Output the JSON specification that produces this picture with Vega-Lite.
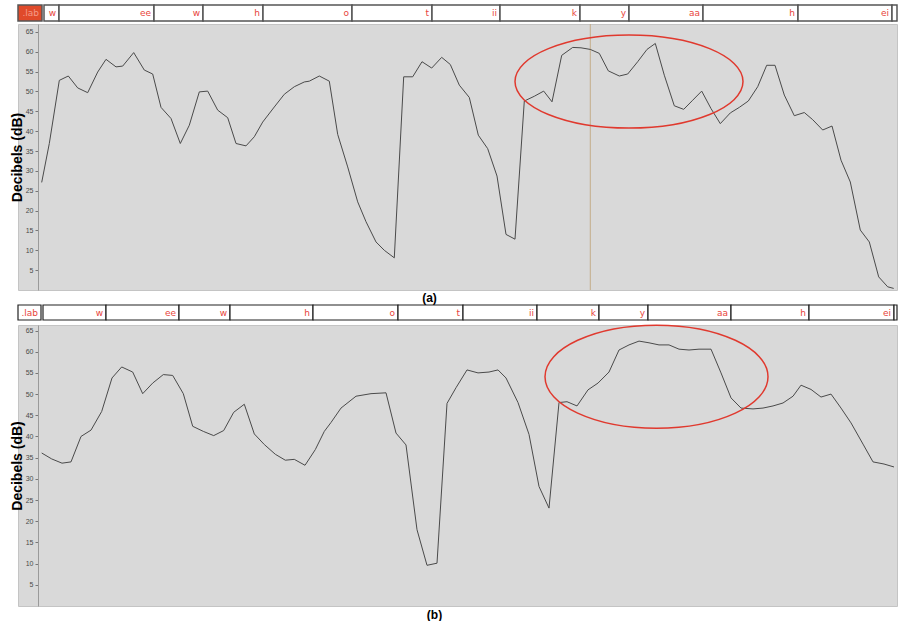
{
  "$schema": "https://vega.github.io/schema/vega-lite/v6.json",
  "padding": {"left": 9, "top": 4, "right": 5, "bottom": 0},
  "background": "white",
  "config": {"view": {"stroke": null}, "font": "Liberation Sans", "axis": {"labelOverlap": false}, "axisY": {"labelOverlap": false}},
  "spacing": 0,
  "datasets": {
    "tierA": [
      {"start": 0, "end": 24, "label": ".lab"},
      {"start": 26, "end": 41, "label": "w"},
      {"start": 41, "end": 136, "label": "ee"},
      {"start": 136, "end": 185, "label": "w"},
      {"start": 185, "end": 245, "label": "h"},
      {"start": 245, "end": 334, "label": "o"},
      {"start": 334, "end": 414, "label": "t"},
      {"start": 414, "end": 482, "label": "ii"},
      {"start": 482, "end": 562, "label": "k"},
      {"start": 562, "end": 611, "label": "y"},
      {"start": 611, "end": 685, "label": "aa"},
      {"start": 685, "end": 780, "label": "h"},
      {"start": 780, "end": 874, "label": "ei"},
      {"start": 874, "end": 879, "label": ""}
    ],
    "tierB": [
      {"start": 0, "end": 23, "label": ".lab"},
      {"start": 25, "end": 88, "label": "w"},
      {"start": 88, "end": 161, "label": "ee"},
      {"start": 161, "end": 212, "label": "w"},
      {"start": 212, "end": 295, "label": "h"},
      {"start": 295, "end": 380, "label": "o"},
      {"start": 380, "end": 445, "label": "t"},
      {"start": 445, "end": 519, "label": "ii"},
      {"start": 519, "end": 581, "label": "k"},
      {"start": 581, "end": 630, "label": "y"},
      {"start": 630, "end": 713, "label": "aa"},
      {"start": 713, "end": 791, "label": "h"},
      {"start": 791, "end": 876, "label": "ei"},
      {"start": 876, "end": 879, "label": ""}
    ],
    "lineA": [
      {"t": 23.7, "v": 27.1}, {"t": 31.3, "v": 36.9}, {"t": 41.3, "v": 52.8}, {"t": 50.3, "v": 53.9},
      {"t": 59.7, "v": 50.9}, {"t": 69.7, "v": 49.7}, {"t": 79.7, "v": 54.9}, {"t": 88, "v": 58.1},
      {"t": 98, "v": 56.2}, {"t": 104.7, "v": 56.4}, {"t": 115.7, "v": 59.8}, {"t": 126.3, "v": 55.4},
      {"t": 134.7, "v": 54.4}, {"t": 143, "v": 46.0}, {"t": 153, "v": 43.2}, {"t": 162.3, "v": 36.9},
      {"t": 171.3, "v": 41.5}, {"t": 181.3, "v": 49.9}, {"t": 189.7, "v": 50.1}, {"t": 199.7, "v": 45.3},
      {"t": 209.7, "v": 43.4}, {"t": 218, "v": 36.9}, {"t": 228, "v": 36.3}, {"t": 236.3, "v": 38.6},
      {"t": 244.7, "v": 42.3}, {"t": 256.3, "v": 46.1}, {"t": 266.3, "v": 49.3}, {"t": 276.3, "v": 51.2},
      {"t": 286.3, "v": 52.4}, {"t": 291.3, "v": 52.6}, {"t": 301.3, "v": 53.9}, {"t": 311.3, "v": 52.6},
      {"t": 319.7, "v": 39.2}, {"t": 329.7, "v": 31.0}, {"t": 339.7, "v": 22.2}, {"t": 348, "v": 17.2},
      {"t": 358, "v": 12.1}, {"t": 366.3, "v": 10.0}, {"t": 376.3, "v": 8.1}, {"t": 385.7, "v": 53.7},
      {"t": 394.7, "v": 53.7}, {"t": 404, "v": 57.5}, {"t": 413.7, "v": 55.9}, {"t": 423.7, "v": 58.6},
      {"t": 432.3, "v": 56.8}, {"t": 441.3, "v": 51.6}, {"t": 451.3, "v": 48.5}, {"t": 460.3, "v": 39.0},
      {"t": 469.7, "v": 35.6}, {"t": 479, "v": 28.7}, {"t": 488, "v": 14.0}, {"t": 497, "v": 12.8},
      {"t": 506.3, "v": 47.6}, {"t": 516.3, "v": 48.8}, {"t": 525.7, "v": 50.1}, {"t": 534, "v": 47.4},
      {"t": 543.7, "v": 59.1}, {"t": 554.7, "v": 61.1}, {"t": 563, "v": 61.0}, {"t": 572.3, "v": 60.6},
      {"t": 581.3, "v": 59.6}, {"t": 590.3, "v": 55.2}, {"t": 601.3, "v": 53.9}, {"t": 609.7, "v": 54.4},
      {"t": 619.7, "v": 57.5}, {"t": 629, "v": 60.6}, {"t": 637.3, "v": 62.1}, {"t": 646.3, "v": 54.1},
      {"t": 656.3, "v": 46.4}, {"t": 665.7, "v": 45.5}, {"t": 674.7, "v": 47.8}, {"t": 683.7, "v": 50.1},
      {"t": 693, "v": 45.7}, {"t": 702.3, "v": 41.9}, {"t": 712.3, "v": 44.6}, {"t": 721.3, "v": 46.0},
      {"t": 730.3, "v": 47.6}, {"t": 739.7, "v": 51.2}, {"t": 748.7, "v": 56.6}, {"t": 757, "v": 56.6},
      {"t": 766.3, "v": 49.1}, {"t": 776.3, "v": 43.9}, {"t": 786.3, "v": 44.7}, {"t": 794.7, "v": 42.9},
      {"t": 804.7, "v": 40.3}, {"t": 814, "v": 41.3}, {"t": 823, "v": 32.7}, {"t": 832.3, "v": 27.2},
      {"t": 842.3, "v": 15.1}, {"t": 851.3, "v": 12.1}, {"t": 860.7, "v": 3.3}, {"t": 869.7, "v": 0.8},
      {"t": 875.7, "v": 0.4}
    ],
    "lineB": [
      {"t": 23.7, "v": 36.1}, {"t": 33.7, "v": 34.7}, {"t": 44, "v": 33.7}, {"t": 53, "v": 34.0},
      {"t": 63, "v": 40.0}, {"t": 73, "v": 41.5}, {"t": 83.7, "v": 45.9}, {"t": 94, "v": 53.8},
      {"t": 103.7, "v": 56.4}, {"t": 114.7, "v": 55.2}, {"t": 124.7, "v": 50.1}, {"t": 134.7, "v": 52.6},
      {"t": 145.3, "v": 54.6}, {"t": 154.7, "v": 54.4}, {"t": 165.3, "v": 50.1}, {"t": 174.7, "v": 42.4},
      {"t": 185.3, "v": 41.2}, {"t": 195.7, "v": 40.2}, {"t": 205.7, "v": 41.4}, {"t": 215.7, "v": 45.7},
      {"t": 226.3, "v": 47.6}, {"t": 236.3, "v": 40.6}, {"t": 246.3, "v": 38.1}, {"t": 257.3, "v": 35.8},
      {"t": 267.3, "v": 34.4}, {"t": 276.3, "v": 34.6}, {"t": 287, "v": 33.2}, {"t": 297.3, "v": 36.9},
      {"t": 306.3, "v": 41.2}, {"t": 313, "v": 43.3}, {"t": 323, "v": 46.7}, {"t": 338, "v": 49.5},
      {"t": 353, "v": 50.1}, {"t": 368, "v": 50.3}, {"t": 378, "v": 40.8}, {"t": 388, "v": 38.0},
      {"t": 399, "v": 18.0}, {"t": 409, "v": 9.6}, {"t": 419, "v": 10.1}, {"t": 429, "v": 47.8},
      {"t": 438, "v": 51.5}, {"t": 449, "v": 55.7}, {"t": 460, "v": 55.0}, {"t": 471, "v": 55.2},
      {"t": 480, "v": 55.7}, {"t": 488, "v": 53.8}, {"t": 500, "v": 48.0}, {"t": 511, "v": 40.5},
      {"t": 521, "v": 28.2}, {"t": 531, "v": 23.1}, {"t": 541, "v": 48.0}, {"t": 549, "v": 48.2},
      {"t": 559, "v": 47.2}, {"t": 570, "v": 51.0}, {"t": 580, "v": 52.6}, {"t": 591, "v": 55.2},
      {"t": 601, "v": 60.4}, {"t": 611, "v": 61.6}, {"t": 621, "v": 62.5}, {"t": 631, "v": 62.1},
      {"t": 641, "v": 61.6}, {"t": 651, "v": 61.6}, {"t": 661, "v": 60.6}, {"t": 671, "v": 60.4},
      {"t": 681, "v": 60.6}, {"t": 693, "v": 60.6}, {"t": 703, "v": 55.0}, {"t": 713, "v": 49.1},
      {"t": 723, "v": 46.7}, {"t": 735, "v": 46.5}, {"t": 745, "v": 46.7}, {"t": 755, "v": 47.2},
      {"t": 765, "v": 47.9}, {"t": 775, "v": 49.5}, {"t": 783, "v": 52.1}, {"t": 793, "v": 51.1},
      {"t": 803, "v": 49.3}, {"t": 813, "v": 50.0}, {"t": 823, "v": 46.7}, {"t": 833, "v": 43.2},
      {"t": 845, "v": 38.2}, {"t": 855, "v": 34.0}, {"t": 866, "v": 33.5}, {"t": 876, "v": 32.8}
    ],
    "cursorA": [{"t": 572.3}],
    "ellipseA": [{"t": 611, "v": 52.5}],
    "ellipseB": [{"t": 638.5, "v": 54.1}]
  },
  "vconcat": [
    {
      "spacing": 1,
      "resolve": {"scale": {"x": "independent", "y": "independent"}},
      "vconcat": [
        {
          "width": 879,
          "height": 16,
          "data": {"name": "tierA"},
          "layer": [
            {
              "mark": {"type": "rect", "stroke": "#555555", "strokeWidth": 1.5},
              "encoding": {
                "x": {"field": "start", "type": "quantitative", "scale": {"domain": [0, 879], "nice": false, "zero": false}, "axis": null},
                "x2": {"field": "end"},
                "fill": {"condition": {"test": "datum.label === '.lab'", "value": "#e04a2a"}, "value": "white"}
              }
            },
            {
              "mark": {"type": "text", "align": "right", "baseline": "middle", "dx": -3, "fontSize": 9, "font": "DejaVu Sans"},
              "encoding": {
                "x": {"field": "end", "type": "quantitative"},
                "text": {"field": "label"},
                "color": {"condition": {"test": "datum.label === '.lab'", "value": "#f59a88"}, "value": "#e8453c"}
              }
            }
          ]
        },
        {
          "width": 879,
          "height": 266,
          "view": {"fill": "#d9d9d9", "stroke": "#c4c4c4"},
          "encoding": {
            "x": {"field": "t", "type": "quantitative", "scale": {"domain": [0, 879], "nice": false, "zero": false},
              "axis": {"title": "(a)", "labels": false, "ticks": false, "domain": false, "grid": false, "titleFontSize": 12, "titleFontWeight": "bold", "titleColor": "black", "titlePadding": 2, "titleX": 411}}
          },
          "layer": [
            {
              "data": {"name": "cursorA"},
              "mark": {"type": "rule", "color": "#bfa47c", "strokeWidth": 1, "opacity": 0.85}
            },
            {
              "data": {"name": "lineA"},
              "mark": {"type": "line", "color": "#4a4a4a", "strokeWidth": 1},
              "encoding": {
                "y": {"field": "v", "type": "quantitative", "scale": {"domain": [0, 67], "nice": false, "zero": false},
                  "axis": {"title": "Decibels (dB)", "values": [5, 10, 15, 20, 25, 30, 35, 40, 45, 50, 55, 60, 65], "labelOverlap": false, "labelSeparation": 0, "offset": -20, "grid": false, "labelFontSize": 7, "labelColor": "#4a4a4a", "tickSize": 3, "tickColor": "#777777", "domainColor": "#9a9a9a", "titleFontSize": 14, "titleFontWeight": "bold", "titleColor": "black", "titlePadding": 1}}
              }
            },
            {
              "data": {"name": "ellipseA"},
              "mark": {"type": "point", "shape": "M 1 0 C 1 0.2253 0.5523 0.408 0 0.408 C -0.5523 0.408 -1 0.2253 -1 0 C -1 -0.2253 -0.5523 -0.408 0 -0.408 C 0.5523 -0.408 1 -0.2253 1 0 Z", "size": 51984, "filled": false, "stroke": "#e0392e", "strokeWidth": 1.5, "opacity": 1},
              "encoding": {
                "y": {"field": "v", "type": "quantitative",
                  "axis": {"title": "Decibels (dB)", "values": [5, 10, 15, 20, 25, 30, 35, 40, 45, 50, 55, 60, 65], "labelOverlap": false, "labelSeparation": 0, "offset": -20, "grid": false, "labelFontSize": 7, "labelColor": "#4a4a4a", "tickSize": 3, "tickColor": "#777777", "domainColor": "#9a9a9a", "titleFontSize": 14, "titleFontWeight": "bold", "titleColor": "black", "titlePadding": 1}}
              }
            }
          ]
        }
      ]
    },
    {
      "spacing": 0,
      "resolve": {"scale": {"x": "independent", "y": "independent"}},
      "vconcat": [
        {
          "width": 879,
          "height": 15,
          "data": {"name": "tierB"},
          "layer": [
            {
              "mark": {"type": "rect", "stroke": "#222222", "strokeWidth": 1.2, "fill": "white"},
              "encoding": {
                "x": {"field": "start", "type": "quantitative", "scale": {"domain": [0, 879], "nice": false, "zero": false}, "axis": null},
                "x2": {"field": "end"}
              }
            },
            {
              "mark": {"type": "text", "align": "right", "baseline": "middle", "dx": -3, "fontSize": 9, "font": "DejaVu Sans", "color": "#e8453c"},
              "encoding": {
                "x": {"field": "end", "type": "quantitative"},
                "text": {"field": "label"}
              }
            }
          ]
        },
        {
          "width": 879,
          "height": 281,
          "view": {"fill": "#d9d9d9", "stroke": "#c4c4c4"},
          "encoding": {
            "x": {"field": "t", "type": "quantitative", "scale": {"domain": [0, 879], "nice": false, "zero": false},
              "axis": {"title": "(b)", "labels": false, "ticks": false, "domain": false, "grid": false, "titleFontSize": 12, "titleFontWeight": "bold", "titleColor": "black", "titlePadding": 3, "titleX": 416}},
            "y": {"field": "v", "type": "quantitative", "scale": {"domain": [0, 66.3], "nice": false, "zero": false},
              "axis": {"title": "Decibels (dB)", "values": [5, 10, 15, 20, 25, 30, 35, 40, 45, 50, 55, 60, 65], "labelOverlap": false, "labelSeparation": 0, "offset": -20, "grid": false, "labelFontSize": 7, "labelColor": "#4a4a4a", "tickSize": 3, "tickColor": "#777777", "domainColor": "#9a9a9a", "titleFontSize": 14, "titleFontWeight": "bold", "titleColor": "black", "titlePadding": 1}}
          },
          "layer": [
            {
              "data": {"name": "lineB"},
              "mark": {"type": "line", "color": "#4a4a4a", "strokeWidth": 1}
            },
            {
              "data": {"name": "ellipseB"},
              "mark": {"type": "point", "shape": "M 1 0 C 1 0.2552 0.5523 0.462 0 0.462 C -0.5523 0.462 -1 0.2552 -1 0 C -1 -0.2552 -0.5523 -0.462 0 -0.462 C 0.5523 -0.462 1 -0.2552 1 0 Z", "size": 49729, "filled": false, "stroke": "#e0392e", "strokeWidth": 1.5, "opacity": 1}
            }
          ]
        }
      ]
    }
  ]
}
